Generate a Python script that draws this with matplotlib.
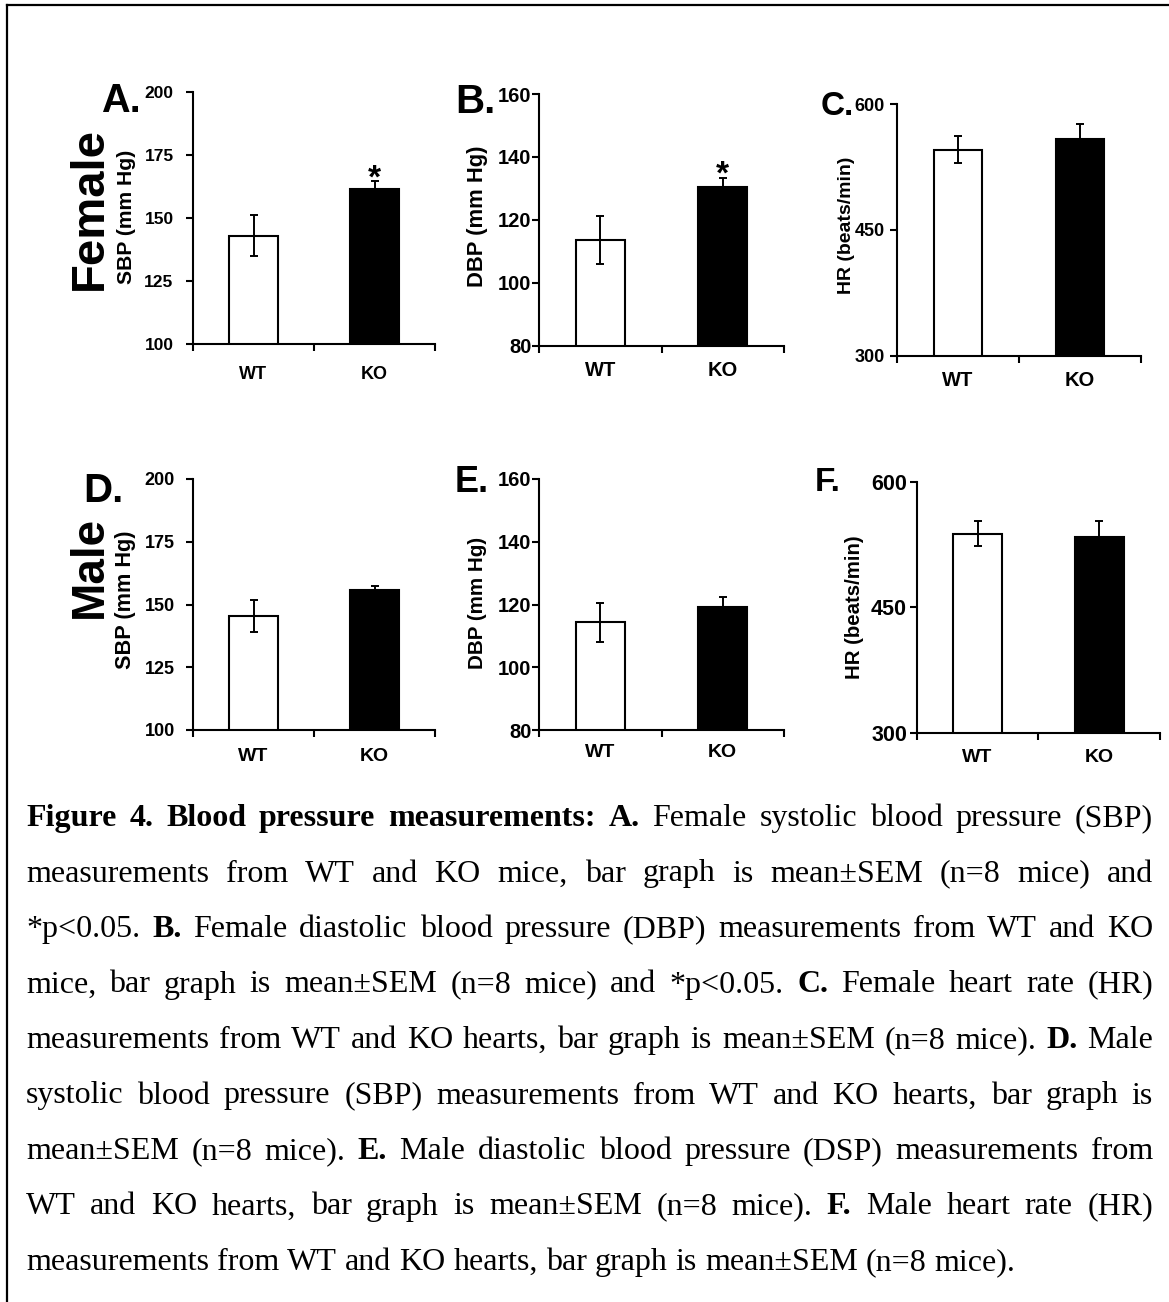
import matplotlib
matplotlib.use('Agg')
import matplotlib.pyplot as plt
from matplotlib.lines import Line2D
from matplotlib.ticker import FixedLocator

W, H = 1169, 1302
DPI = 100

# ---------------- data ----------------
categories = ['WT', 'KO']
bar_colors = ['white', 'black']

female_sbp = [143.0, 161.5]
female_sbp_sem = [8.0, 3.0]
female_dbp = [113.5, 130.4]
female_dbp_sem = [7.6, 3.0]
female_hr = [546.0, 559.0]
female_hr_sem = [16.0, 17.0]

male_sbp = [145.3, 155.7]
male_sbp_sem = [6.4, 1.5]
male_dbp = [114.4, 119.3]
male_dbp_sem = [6.2, 3.0]
male_hr = [538.0, 533.5]
male_hr_sem = [15.0, 20.0]

sbp_ticks = [100, 125, 150, 175, 200]
dbp_ticks = [80, 100, 120, 140, 160]
hr_ticks = [300, 450, 600]

ylabel_sbp = 'SBP (mm Hg)'
ylabel_dbp = 'DBP (mm Hg)'
ylabel_hr = 'HR (beats/min)'

panel_letters = ['A.', 'B.', 'C.', 'D.', 'E.', 'F.']
row_labels = ['Female', 'Male']
significant = [[False, True], [False, True], [False, False],
               [False, False], [False, False], [False, False]]

caption_lines = [
    [("Figure 4. Blood pressure measurements:", True), ("A.", True),
     ("Female systolic blood pressure (SBP)", False)],
    [("measurements from WT and KO mice, bar graph is mean\u00b1SEM (n=8 mice) and", False)],
    [("*p<0.05.", False), ("B.", True),
     ("Female diastolic blood pressure (DBP) measurements from WT and KO", False)],
    [("mice, bar graph is mean\u00b1SEM (n=8 mice) and *p<0.05.", False), ("C.", True),
     ("Female heart rate (HR)", False)],
    [("measurements from WT and KO hearts, bar graph is mean\u00b1SEM (n=8 mice).", False),
     ("D.", True), ("Male", False)],
    [("systolic blood pressure (SBP) measurements from WT and KO hearts, bar graph is", False)],
    [("mean\u00b1SEM (n=8 mice).", False), ("E.", True),
     ("Male diastolic blood pressure (DSP) measurements from", False)],
    [("WT and KO hearts, bar graph is mean\u00b1SEM (n=8 mice).", False), ("F.", True),
     ("Male heart rate (HR)", False)],
    [("measurements from WT and KO hearts, bar graph is mean\u00b1SEM (n=8 mice).", False)],
]

# ---------------- layout ----------------
SANS = 'Liberation Sans'
SERIF = 'Liberation Serif'

fig = plt.figure(figsize=(W / DPI, H / DPI), dpi=DPI)
fig.patch.set_facecolor('white')


def fx(x):
    return x / W


def fy(y):
    return 1 - y / H


panels = [
    dict(vals=female_sbp, sem=female_sbp_sem, ticks=sbp_ticks, ylabel=ylabel_sbp,
         box=(193, 92, 435, 344), let=(101, 112), let_size=28.5, yl=(131.5, 216.5), yl_size=15.2,
         yt_size=12.5, yt_pad=9, xt_size=13, xt_pad=15.5),
    dict(vals=female_dbp, sem=female_dbp_sem, ticks=dbp_ticks, ylabel=ylabel_dbp,
         box=(539, 94, 784, 345.7), let=(455, 113), let_size=29, yl=(483, 216), yl_size=15.8,
         yt_size=14.5, yt_pad=0.5, xt_size=14.5, xt_pad=11.3),
    dict(vals=female_hr, sem=female_hr_sem, ticks=hr_ticks, ylabel=ylabel_hr,
         box=(897, 104.3, 1141, 355.7), let=(821, 115), let_size=24, yl=(851, 225), yl_size=14,
         yt_size=13, yt_pad=4, xt_size=14.5, xt_pad=11.3),
    dict(vals=male_sbp, sem=male_sbp_sem, ticks=sbp_ticks, ylabel=ylabel_sbp,
         box=(193, 479, 435, 730), let=(83, 502), let_size=29, yl=(131.5, 600), yl_size=15.6,
         yt_size=13, yt_pad=8, xt_size=14, xt_pad=13.2),
    dict(vals=male_dbp, sem=male_dbp_sem, ticks=dbp_ticks, ylabel=ylabel_dbp,
         box=(539, 479, 784, 730), let=(455, 492), let_size=26, yl=(483, 603), yl_size=14.9,
         yt_size=14.5, yt_pad=0.5, xt_size=14, xt_pad=10.3),
    dict(vals=male_hr, sem=male_hr_sem, ticks=hr_ticks, ylabel=ylabel_hr,
         box=(916.7, 481.7, 1160, 732.7), let=(815, 491), let_size=24, yl=(860, 607), yl_size=14.7,
         yt_size=15.5, yt_pad=2, xt_size=14, xt_pad=11.7),
]

x = [0, 1]
for i, p in enumerate(panels):
    l, t, r, b = p['box']
    ax = fig.add_axes([fx(l), fy(b), (r - l) / W, (b - t) / H])
    ax.bar(x, p['vals'], width=0.4, color=bar_colors, edgecolor='black',
           linewidth=1.5, zorder=2)
    ax.errorbar(x, p['vals'], yerr=p['sem'], fmt='none', ecolor='black',
                elinewidth=1.4, capsize=2.6, capthick=1.4, zorder=3)
    ax.set_xlim(-0.5, 1.5)
    ax.set_ylim(p['ticks'][0], p['ticks'][-1])
    for s in ['top', 'right']:
        ax.spines[s].set_visible(False)
    for s in ['left', 'bottom']:
        ax.spines[s].set_linewidth(1.5)
    ax.set_yticks(p['ticks'])
    ax.set_yticklabels([str(v) for v in p['ticks']], fontsize=p['yt_size'],
                       fontweight='bold', family=SANS)
    ax.tick_params(axis='y', direction='out', length=5, width=1.5, pad=p['yt_pad'])
    ax.set_xticks(x)
    ax.set_xticklabels(categories, fontsize=p['xt_size'], fontweight='bold', family=SANS)
    ax.tick_params(axis='x', which='major', length=0, pad=p['xt_pad'])
    ax.xaxis.set_minor_locator(FixedLocator([-0.5, 0.5, 1.5]))
    ax.tick_params(axis='x', which='minor', direction='out', length=5, width=1.5)
    ax.set_facecolor('none')
    for j in range(2):
        if significant[i][j]:
            ax.annotate('*', xy=(x[j], p['vals'][j] + p['sem'][j]),
                        xytext=(0, -6), textcoords='offset pixels',
                        ha='center', va='baseline', fontsize=24,
                        fontweight='bold', family=SANS, annotation_clip=False)
    fig.text(fx(p['yl'][0]), fy(p['yl'][1]), p['ylabel'], rotation=90,
             rotation_mode='anchor', ha='center', va='baseline',
             fontsize=p['yl_size'], fontweight='bold', family=SANS)
    fig.text(fx(p['let'][0]), fy(p['let'][1]), panel_letters[i], ha='left',
             va='baseline', fontsize=p['let_size'], fontweight='bold', family=SANS)

fig.text(fx(102), fy(209), row_labels[0], rotation=90, rotation_mode='anchor',
         ha='center', va='baseline', fontsize=34, fontweight='bold', family=SANS)
fig.text(fx(102), fy(567), row_labels[1], rotation=90, rotation_mode='anchor',
         ha='center', va='baseline', fontsize=33, fontweight='bold', family=SANS)

fig.add_artist(Line2D([fx(7), 1.0], [fy(5), fy(5)], color='black', linewidth=1.6,
                      transform=fig.transFigure))
fig.add_artist(Line2D([fx(7), fx(7)], [fy(5), 0.0], color='black', linewidth=1.6,
                      transform=fig.transFigure))

# ---------------- justified caption ----------------
cap_size = 23
left_px, right_px = 26, 1153
base0, line_step = 826, 55.5
renderer = fig.canvas.get_renderer()
space_px = 0.25 * cap_size * DPI / 72.0

for li, segs in enumerate(caption_lines):
    words = []
    for txt, bold in segs:
        for w in txt.split(' '):
            if w:
                words.append((w, bold))
    y = base0 + li * line_step
    arts = []
    widths = []
    for w, bold in words:
        tt = fig.text(0, fy(y), w, ha='left', va='baseline', fontsize=cap_size,
                      fontweight='bold' if bold else 'normal', family=SERIF)
        arts.append(tt)
        widths.append(tt.get_window_extent(renderer).width)
    total = sum(widths)
    last = (li == len(caption_lines) - 1)
    if last or len(words) < 2:
        gap = space_px
    else:
        gap = max((right_px - left_px - total) / (len(words) - 1), space_px * 0.6)
    cx = left_px
    for tt, wdt in zip(arts, widths):
        tt.set_x(fx(cx))
        cx += wdt + gap

fig.savefig('out.png', dpi=DPI, facecolor='white')
